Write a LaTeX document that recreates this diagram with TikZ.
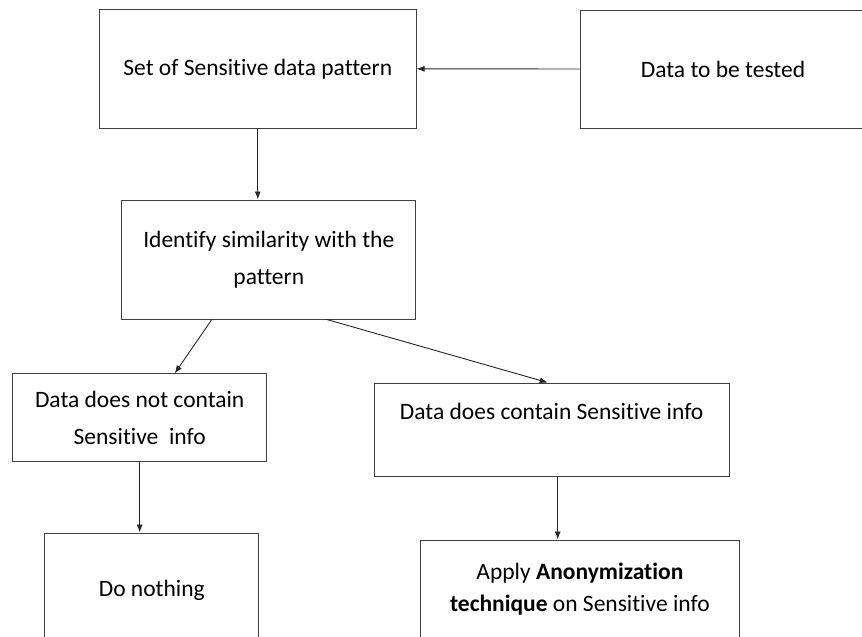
\documentclass[tikz,border=0pt]{standalone}
\usepackage{fontspec}
\setmainfont{Carlito}[Ligatures=NoCommon]
\usepackage{amsmath}
\usetikzlibrary{arrows.meta}

\begin{document}
\begin{tikzpicture}[x=1pt, y=-1pt, box/.style = {draw=black!75, line width=1pt, align=center, inner sep=0pt, font=\fontsize{23.5}{37}\selectfont}, arr/.style = {-{Latex[length=8pt, width=6pt]}, line width=0.9pt, black!85}]
	\clip (0,0) rectangle (862,637);
	\node[box, minimum width=316.5pt, minimum height=118.5pt] (pattern) at (257.8,68.8) {Set of Sensitive data pattern};
	\node[box, minimum width=286pt, minimum height=118pt] (tested) at (723,69) {Data to be tested};
	\node[box, minimum width=294pt, minimum height=119pt] (identify) at (268.8,259.5) {Identify similarity with the\\pattern};
	\node[box, minimum width=254pt, minimum height=87.7pt] (notcontain) at (139.7,417.8) {Data does not contain\\Sensitive\ \ info};
	\node[box, minimum width=355.3pt, minimum height=93.7pt, text height=36pt, text depth=57.7pt] (contain) at (551.7,429.9) {Data does contain Sensitive info};
	\node[box, minimum width=213.7pt, minimum height=114pt] (nothing) at (151.8,590) {Do nothing};
	\node[box, minimum width=318.3pt, minimum height=110pt, text height=71pt, text depth=39pt, font=\fontsize{23.5}{32}\selectfont] (apply) at (579.9,595) {Apply \textbf{Anonymization}\\\textbf{technique} on Sensitive info};
	\draw[arr] (tested.west) -- (pattern.east);
	\draw[arr] (pattern.south) -- (pattern.south |- identify.north);
	\draw[arr] ([xshift=-57pt]identify.south) -- ([xshift=35pt]notcontain.north);
	\draw[arr] ([xshift=58pt]identify.south) -- ([xshift=-4pt]contain.north);
	\draw[arr] (notcontain.south) -- (notcontain.south |- nothing.north);
	\draw[arr] ([xshift=6pt]contain.south) -- ([xshift=6pt]contain.south |- apply.north);
\end{tikzpicture}
\end{document}
